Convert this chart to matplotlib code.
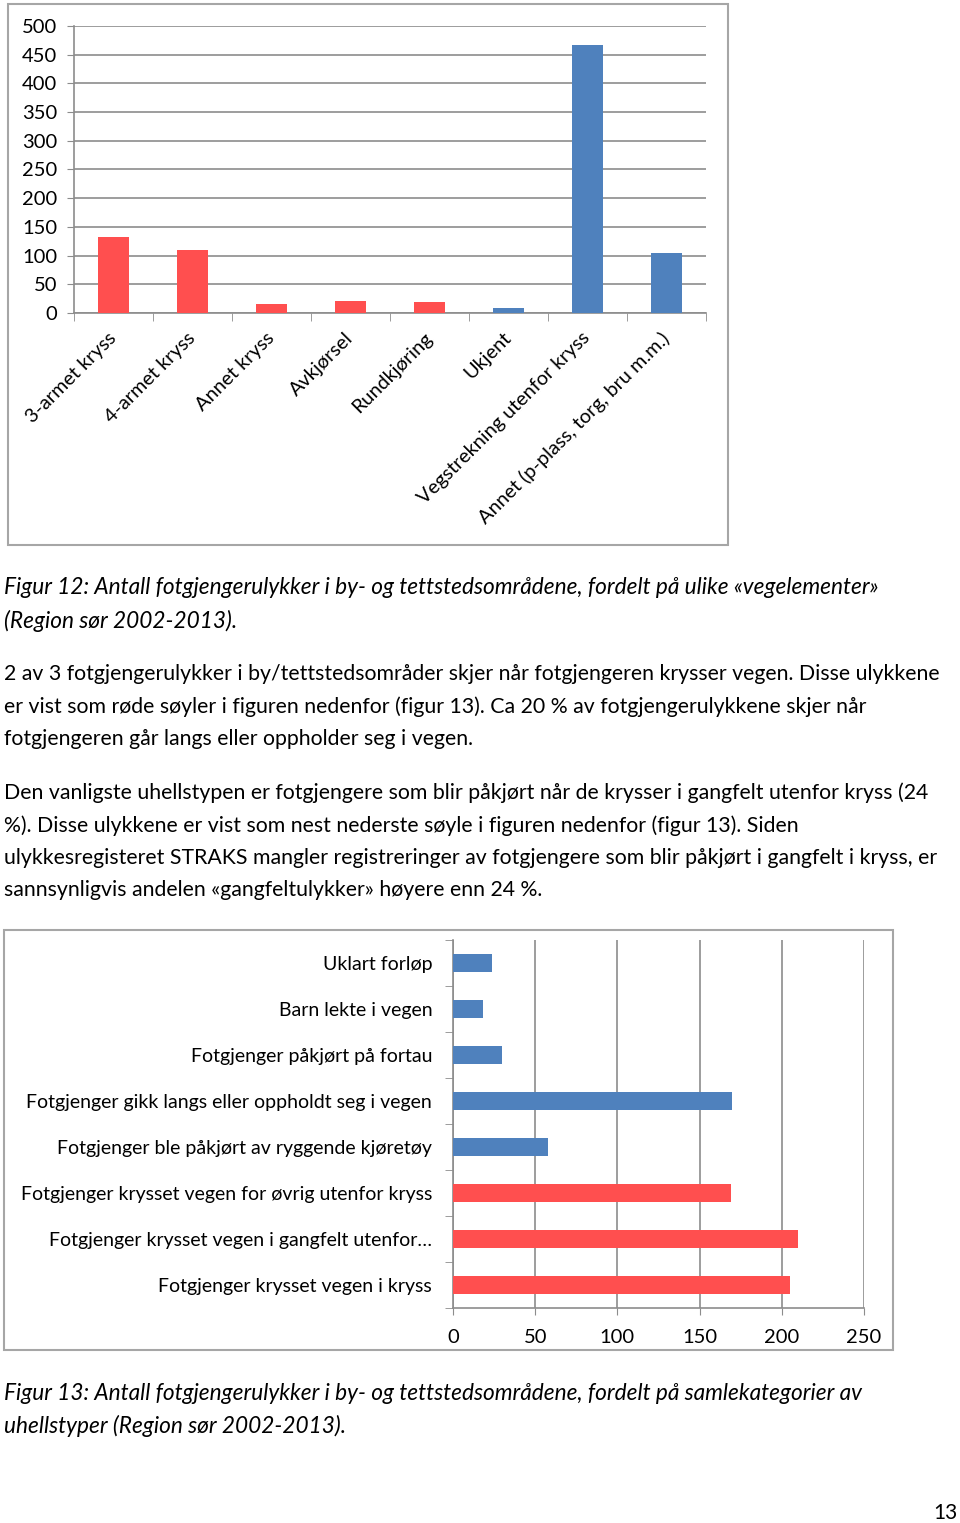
import matplotlib
matplotlib.use('Agg')
import matplotlib.pyplot as plt
from matplotlib.patches import Rectangle
import numpy as np

plt.rcParams['font.family'] = ['Lato', 'DejaVu Sans']

# Figur 12: vegelementer
elementer = ['3-armet kryss', '4-armet kryss', 'Annet kryss', 'Avkjørsel',
             'Rundkjøring', 'Ukjent', 'Vegstrekning utenfor kryss',
             'Annet (p-plass, torg, bru m.m.)']
antall12 = [133, 110, 16, 21, 19, 9, 467, 104]
kryssing12 = [True, True, True, True, True, False, False, False]

# Figur 13: samlekategorier av uhellstyper (fra toppen)
uhellstyper = ['Uklart forløp', 'Barn lekte i vegen',
               'Fotgjenger påkjørt på fortau',
               'Fotgjenger gikk langs eller oppholdt seg i vegen',
               'Fotgjenger ble påkjørt av ryggende kjøretøy',
               'Fotgjenger krysset vegen for øvrig utenfor kryss',
               'Fotgjenger krysset vegen i gangfelt utenfor…',
               'Fotgjenger krysset vegen i kryss']
antall13 = [24, 18, 30, 170, 58, 169, 210, 205]
kryssing13 = [False, False, False, False, False, True, True, True]

caption12 = ['Figur 12: Antall fotgjengerulykker i by- og tettstedsområdene, fordelt på ulike «vegelementer»',
             '(Region sør 2002-2013).']
avsnitt1 = ['2 av 3 fotgjengerulykker i by/tettstedsområder skjer når fotgjengeren krysser vegen. Disse ulykkene',
            'er vist som røde søyler i figuren nedenfor (figur 13). Ca 20 % av fotgjengerulykkene skjer når',
            'fotgjengeren går langs eller oppholder seg i vegen.']
avsnitt2 = ['Den vanligste uhellstypen er fotgjengere som blir påkjørt når de krysser i gangfelt utenfor kryss (24',
            '%). Disse ulykkene er vist som nest nederste søyle i figuren nedenfor (figur 13). Siden',
            'ulykkesregisteret STRAKS mangler registreringer av fotgjengere som blir påkjørt i gangfelt i kryss, er',
            'sannsynligvis andelen «gangfeltulykker» høyere enn 24 %.']
caption13 = ['Figur 13: Antall fotgjengerulykker i by- og tettstedsområdene, fordelt på samlekategorier av',
             'uhellstyper (Region sør 2002-2013).']

RED = '#ff4f4f'
BLUE = '#4f81bd'
GRID = '#8c8c8c'
FRAME = '#a6a6a6'

W, H = 960, 1523
fig = plt.figure(figsize=(W/100, H/100), dpi=100)

def box(x0, y0, x1, y1):
    return [x0/W, 1 - y1/H, (x1 - x0)/W, (y1 - y0)/H]

def frame(x0, y0, x1, y1):
    fig.patches.append(Rectangle((x0/W, 1 - y1/H), (x1 - x0)/W, (y1 - y0)/H,
                                 transform=fig.transFigure, fill=False,
                                 edgecolor=FRAME, lw=1.5))

def line(x, y, s, **kw):
    fig.text(x/W, 1 - y/H, s, va='center', color='black', **kw)

# ---- Figur 12 ----
frame(8, 4, 728, 545)
ax1 = fig.add_axes(box(74, 26, 706, 313))
x = np.arange(len(elementer))
ax1.bar(x, antall12, width=0.4, color=[RED if k else BLUE for k in kryssing12], zorder=3)
ax1.set_xlim(-0.5, len(elementer) - 0.5)
ax1.set_ylim(0, 500)
ax1.set_yticks(np.arange(0, 501, 50))
ax1.grid(axis='y', color=GRID, lw=1.2, zorder=0)
ax1.set_xticks(x)
ax1.set_xticklabels(elementer, rotation=45, ha='right', va='center',
                    rotation_mode='anchor', fontsize=14.3)
ax1.set_xticks(np.arange(-0.5, len(elementer)), minor=True)
ax1.tick_params(axis='x', which='major', length=0, pad=16)
ax1.tick_params(axis='x', which='minor', length=6, color=GRID, direction='out')
ax1.tick_params(axis='y', length=5, color=GRID, labelsize=14.5, pad=7)
for s in ['top', 'right']:
    ax1.spines[s].set_visible(False)
for s in ['left', 'bottom']:
    ax1.spines[s].set_color(GRID)
    ax1.spines[s].set_linewidth(1.2)

# ---- tekst ----
for i, s in enumerate(caption12):
    line(4, 588 + i*32.5, s, fontsize=16.3, style='italic')
for i, s in enumerate(avsnitt1):
    line(4, 674 + i*32.5, s, fontsize=15.3)
for i, s in enumerate(avsnitt2):
    line(4, 793 + i*32.5, s, fontsize=15.3)

# ---- Figur 13 ----
frame(4, 930, 893, 1350)
ax2 = fig.add_axes(box(453, 940, 864, 1308))
y = np.arange(len(uhellstyper))
ax2.barh(y, antall13, height=0.4, color=[RED if k else BLUE for k in kryssing13], zorder=3)
ax2.set_ylim(len(uhellstyper) - 0.5, -0.5)
ax2.set_xlim(0, 250)
ax2.set_xticks(np.arange(0, 251, 50))
ax2.grid(axis='x', color=GRID, lw=1.2, zorder=0)
ax2.set_yticks(y)
ax2.set_yticklabels(uhellstyper, fontsize=14)
ax2.set_yticks(np.arange(-0.5, len(uhellstyper)), minor=True)
ax2.tick_params(axis='y', which='major', length=0, pad=15)
ax2.tick_params(axis='y', which='minor', length=6, color=GRID, direction='out')
ax2.tick_params(axis='x', length=5, color=GRID, labelsize=14.5, pad=10)
for s in ['top', 'right']:
    ax2.spines[s].set_visible(False)
for s in ['left', 'bottom']:
    ax2.spines[s].set_color(GRID)
    ax2.spines[s].set_linewidth(1.2)

for i, s in enumerate(caption13):
    line(4, 1393 + i*32.5, s, fontsize=16.3, style='italic')

fig.text(958/W, 1 - 1513/H, '13', ha='right', va='center', fontsize=15)

fig.savefig('out.png', dpi=100)
